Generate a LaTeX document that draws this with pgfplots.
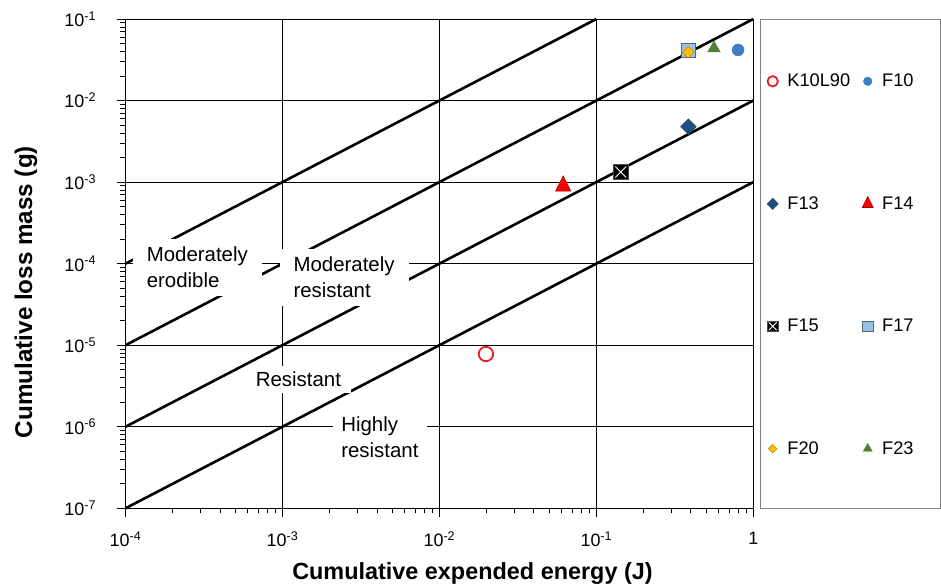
\documentclass[border=0pt]{standalone}
\usepackage{pgfplots}
\pgfplotsset{compat=1.18}
\usepackage{fontspec}
\setmainfont{Liberation Sans}
\newcommand\tfont{\fontsize{18}{21}\selectfont}

\definecolor{cK}{RGB}{226,32,40}
\definecolor{cF10}{RGB}{60,125,196}
\definecolor{cF13}{RGB}{33,78,124}
\definecolor{cF14}{RGB}{255,0,0}
\definecolor{cF14b}{RGB}{150,0,0}
\definecolor{cF17}{RGB}{155,194,230}
\definecolor{cF17b}{RGB}{80,100,130}
\definecolor{cF20}{RGB}{255,192,0}
\definecolor{cF20b}{RGB}{185,135,0}
\definecolor{cF23}{RGB}{84,130,53}

\pgfdeclareplotmark{boxx}{%
  \pgfpathrectangle{\pgfqpoint{-\pgfplotmarksize}{-\pgfplotmarksize}}{\pgfqpoint{2\pgfplotmarksize}{2\pgfplotmarksize}}%
  \pgfusepath{fill,stroke}%
  \begin{pgfscope}%
  \pgfsetstrokecolor{white}\pgfsetlinewidth{0.9pt}%
  \pgfpathmoveto{\pgfqpoint{-0.75\pgfplotmarksize}{-0.75\pgfplotmarksize}}%
  \pgfpathlineto{\pgfqpoint{0.75\pgfplotmarksize}{0.75\pgfplotmarksize}}%
  \pgfpathmoveto{\pgfqpoint{-0.75\pgfplotmarksize}{0.75\pgfplotmarksize}}%
  \pgfpathlineto{\pgfqpoint{0.75\pgfplotmarksize}{-0.75\pgfplotmarksize}}%
  \pgfusepath{stroke}%
  \end{pgfscope}%
}

\begin{document}
\begin{tikzpicture}
\begin{axis}[
  scale only axis, width=627.8bp, height=489.3bp,
  xmode=log, ymode=log,
  xmin=1e-4, xmax=1, ymin=1e-7, ymax=1e-1,
  xtick={1e-4,1e-3,1e-2,1e-1,1},
  xticklabels={{\tfont 10\textsuperscript{-4}},{\tfont 10\textsuperscript{-3}},{\tfont 10\textsuperscript{-2}},{\tfont 10\textsuperscript{-1}},{\tfont 1}},
  ytick={1e-7,1e-6,1e-5,1e-4,1e-3,1e-2,1e-1},
  yticklabels={{\tfont 10\textsuperscript{-7}},{\tfont 10\textsuperscript{-6}},{\tfont 10\textsuperscript{-5}},{\tfont 10\textsuperscript{-4}},{\tfont 10\textsuperscript{-3}},{\tfont 10\textsuperscript{-2}},{\tfont 10\textsuperscript{-1}}},
  minor xtick={2e-4,3e-4,4e-4,5e-4,6e-4,7e-4,8e-4,9e-4,2e-3,3e-3,4e-3,5e-3,6e-3,7e-3,8e-3,9e-3,2e-2,3e-2,4e-2,5e-2,6e-2,7e-2,8e-2,9e-2,2e-1,3e-1,4e-1,5e-1,6e-1,7e-1,8e-1,9e-1},
  minor ytick={2e-7,3e-7,4e-7,5e-7,6e-7,7e-7,8e-7,9e-7,2e-6,3e-6,4e-6,5e-6,6e-6,7e-6,8e-6,9e-6,2e-5,3e-5,4e-5,5e-5,6e-5,7e-5,8e-5,9e-5,2e-4,3e-4,4e-4,5e-4,6e-4,7e-4,8e-4,9e-4,2e-3,3e-3,4e-3,5e-3,6e-3,7e-3,8e-3,9e-3,2e-2,3e-2,4e-2,5e-2,6e-2,7e-2,8e-2,9e-2},
  tick pos=left,
  tick align=outside, major tick length=9bp, minor tick length=5bp,
  tick style={black, line width=0.8bp},
  xmajorgrids, ymajorgrids, major grid style={black, line width=0.8bp},
  axis line style={black, line width=1bp},
  every tick label/.append style={font=\tfont},
  yticklabel style={xshift=-17bp},
  xticklabel style={yshift=-11bp},
  xlabel={Cumulative expended energy (J)},
  ylabel={Cumulative loss mass (g)},
  every axis x label/.style={at={(axis description cs:0.5527,0)}, anchor=center, yshift=-64.7bp, font=\bfseries\fontsize{23.5}{27}\selectfont},
  every axis y label/.style={at={(axis description cs:0,0.442)}, anchor=center, rotate=90, yshift=99.5bp, font=\bfseries\fontsize{24.3}{28}\selectfont},
  clip=false,
  legend columns=2,
  legend cell align=left,
  legend image code/.code={\draw[mark repeat=1,#1] plot coordinates {(0bp,0bp)};},
  legend image post style={/tikz/every mark/.append style={scale=0.72}},
  legend style={draw=none, fill=none, inner sep=0pt, at={(axis description cs:1,1)}, anchor=north west, xshift=13.5bp, yshift=-53bp,
    font=\fontsize{18.3}{21}\selectfont, row sep=104.3bp,
    /tikz/every odd column/.append style={column sep=7bp},
    /tikz/every even column/.append style={column sep=10bp}},
]
% classification lines
\addplot[black, line width=2.6bp, forget plot] coordinates {(1e-4,1e-4) (1e-1,1e-1)};
\addplot[black, line width=2.6bp, forget plot] coordinates {(1e-4,1e-5) (1,1e-1)};
\addplot[black, line width=2.6bp, forget plot] coordinates {(1e-4,1e-6) (1,1e-2)};
\addplot[black, line width=2.6bp, forget plot] coordinates {(1e-4,1e-7) (1,1e-3)};
% zone labels
\node[fill=white, align=left, inner xsep=14bp, inner ysep=8bp, font=\fontsize{20.5}{26}\selectfont] at (axis cs:2.87e-4,8.97e-5) {Moderately\\erodible};
\node[fill=white, align=left, inner xsep=14bp, inner ysep=8bp, font=\fontsize{20.5}{26}\selectfont] at (axis cs:2.47e-3,6.76e-5) {Moderately\\resistant};
\node[fill=white, align=left, inner xsep=10bp, inner ysep=6bp, font=\fontsize{20.5}{26}\selectfont] at (axis cs:1.265e-3,3.79e-6) {Resistant};
\node[fill=white, align=left, inner xsep=8bp, inner ysep=8bp, font=\fontsize{20.5}{26}\selectfont] at (axis cs:4.18e-3,7.48e-7) {Highly\\resistant};
% data
\addplot[only marks, mark=o, mark size=7.2bp, draw=cK, line width=1.8bp] coordinates {(0.0198,7.8e-6)};
\addlegendentry{K10L90}
\addplot[only marks, mark=*, mark size=6bp, draw=cF10, fill=cF10] coordinates {(0.800,0.0417)};
\addlegendentry{F10}
\addplot[only marks, mark=square*, mark size=5.6bp, mark options={rotate=45}, draw=cF13, fill=cF13] coordinates {(0.386,0.00478)};
\addlegendentry{F13}
\addplot[only marks, mark=triangle*, mark size=8.8bp, mark options={yscale=1.15}, draw=cF14b, fill=cF14, line width=0.6bp] coordinates {(0.0615,8.95e-4)};
\addlegendentry{F14}
\addplot[only marks, mark=boxx, mark size=7.3bp, draw=gray!60!black, fill=black, line width=0.6bp] coordinates {(0.143,1.33e-3)};
\addlegendentry{F15}
\addplot[only marks, mark=square*, mark size=7.3bp, draw=cF17b, fill=cF17, line width=0.8bp] coordinates {(0.386,0.0411)};
\addlegendentry{F17}
\addplot[only marks, mark=square*, mark size=4.1bp, mark options={rotate=45}, draw=cF20b, fill=cF20, line width=0.6bp] coordinates {(0.385,0.0391)};
\addlegendentry{F20}
\addplot[only marks, mark=triangle*, mark size=7.3bp, draw=cF23, fill=cF23] coordinates {(0.562,0.0438)};
\addlegendentry{F23}
% legend frame and picture extent
\draw[gray, line width=0.8bp] ([xshift=6.7bp]rel axis cs:1,1) rectangle ([xshift=186.7bp]rel axis cs:1,0);
\path ([shift={(-125.5bp,-79.7bp)}]rel axis cs:0,0) rectangle ([shift={(187.7bp,19bp)}]rel axis cs:1,1);
\end{axis}
\end{tikzpicture}
\end{document}
